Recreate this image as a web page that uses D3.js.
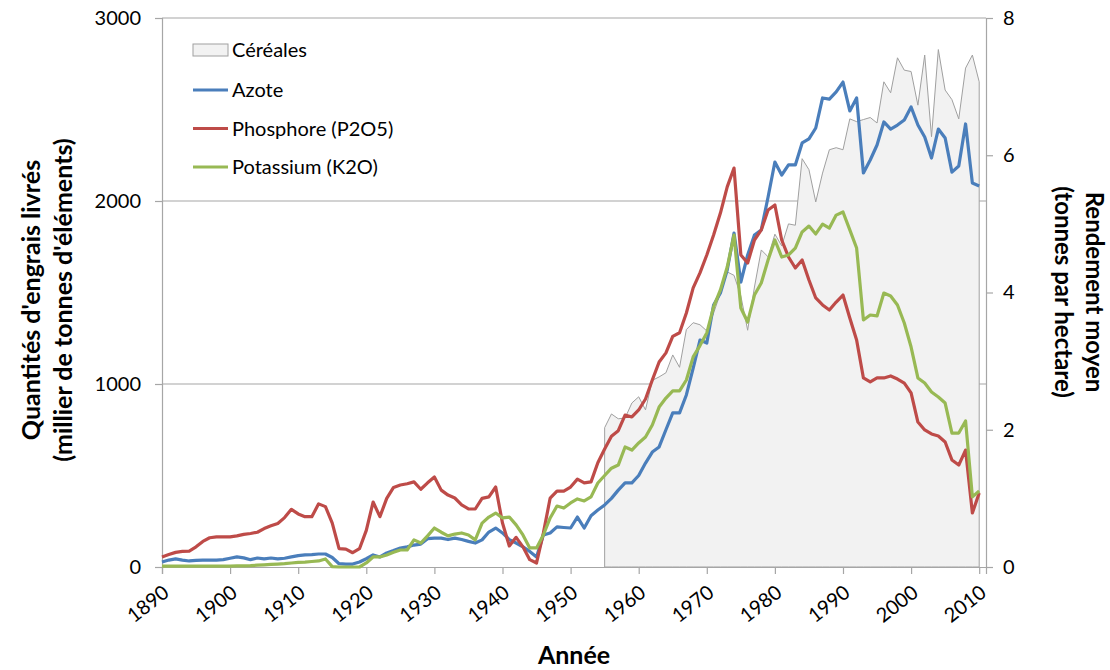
<!DOCTYPE html>
<html>
<head>
<meta charset="utf-8">
<script src="https://cdn.jsdelivr.net/npm/d3@7"></script>
<style>
  body { margin: 0; background: #fff; }
  #chart { width: 1110px; height: 670px; }
  text { font-family: Lato, "Open Sans", sans-serif; fill: #000; }
</style>
</head>
<body>
<div id="chart"></div>
<script>
// Années (catégories)
const years = d3.range(1890, 2011);
const cerealYears = d3.range(1955, 2011);

// Azote (milliers de tonnes)
const azote = [27, 38, 44, 38, 33, 36, 38, 38, 38, 40,
  48, 55, 50, 40, 49, 44, 49, 44, 48, 55,
  62, 66, 68, 71, 71, 52, 18, 16, 16, 27,
  45, 66, 55, 77, 90, 104, 110, 120, 125, 155,
  158, 158, 150, 158, 150, 140, 131, 148, 191, 213,
  186, 150, 131, 110, 85, 55, 175, 186, 219, 216,
  213, 273, 213, 280, 311, 339, 375, 420, 460, 460,
  500, 568, 628, 656, 750, 842, 842, 940, 1087, 1240,
  1224, 1432, 1497, 1623, 1825, 1557, 1705, 1814, 1842, 2022,
  2213, 2142, 2197, 2197, 2317, 2339, 2399, 2563, 2557, 2596,
  2650, 2492, 2563, 2153, 2224, 2306, 2432, 2393, 2415, 2443,
  2514, 2415, 2350, 2235, 2393, 2344, 2158, 2191, 2421, 2098,
  2082];

// Phosphore P2O5
const phosphore = [55, 68, 80, 85, 87, 110, 140, 160, 165, 165,
  165, 170, 178, 183, 190, 210, 225, 238, 270, 315,
  290, 275, 275, 345, 330, 240, 100, 98, 78, 100,
  200, 355, 275, 375, 435, 448, 455, 465, 425, 460,
  492, 420, 393, 377, 340, 318, 317, 375, 383, 437,
  240, 115, 162, 110, 40, 22, 185, 377, 415, 415,
  437, 480, 460, 465, 570, 645, 715, 745, 830, 820,
  858, 918, 1022, 1120, 1170, 1260, 1280, 1388, 1525, 1607,
  1705, 1814, 1934, 2077, 2180, 1705, 1661, 1787, 1842, 1951,
  1978, 1787, 1694, 1634, 1678, 1568, 1470, 1432, 1404, 1448,
  1486, 1361, 1240, 1033, 1011, 1033, 1033, 1044, 1027, 1005,
  951, 792, 749, 727, 716, 683, 585, 557, 639, 295,
  404];

// Potassium K2O
const potassium = [5, 5, 5, 5, 5, 5, 5, 5, 5, 5,
  5, 6, 6, 7, 10, 12, 14, 16, 18, 22,
  25, 27, 30, 33, 44, 2, 0, 0, 0, 0,
  22, 55, 55, 66, 80, 93, 93, 148, 131, 170,
  213, 190, 170, 180, 186, 175, 148, 240, 273, 295,
  268, 273, 230, 175, 104, 104, 175, 268, 333, 322,
  350, 372, 361, 383, 459, 500, 540, 557, 656, 639,
  678, 710, 776, 874, 923, 962, 962, 1022, 1148, 1210,
  1279, 1421, 1514, 1639, 1814, 1415, 1339, 1486, 1552, 1678,
  1787, 1694, 1705, 1743, 1831, 1863, 1820, 1874, 1852, 1923,
  1940, 1842, 1743, 1350, 1377, 1372, 1497, 1481, 1432, 1333,
  1202, 1033, 1005, 956, 929, 896, 732, 732, 798, 383,
  415];

// Céréales, rendement moyen (t/ha)
const cereales = [2.03, 2.23, 2.16, 2.17, 2.39, 2.48, 2.29, 2.72, 2.77, 2.83,
  3.09, 2.91, 3.46, 3.56, 3.53, 3.44, 3.70, 3.99, 4.30, 4.25,
  3.95, 3.45, 4.08, 4.62, 4.52, 4.85, 4.68, 5.00, 4.98, 5.95,
  5.79, 5.32, 5.74, 6.08, 6.11, 6.08, 6.53, 6.49, 6.52, 6.55,
  6.47, 7.07, 6.91, 7.42, 7.24, 7.22, 6.73, 7.46, 6.27, 7.54,
  6.95, 6.81, 6.53, 7.27, 7.46, 7.07];

const leftTicks = [0, 1000, 2000, 3000];
const rightTicks = [0, 2, 4, 6, 8];
const xTicks = d3.range(1890, 2011, 10);

const series = [
  { name: "Azote", values: azote, color: "#4a7ebb" },
  { name: "Phosphore (P2O5)", values: phosphore, color: "#be4b48" },
  { name: "Potassium (K2O)", values: potassium, color: "#98b954" }
];

const width = 1110, height = 670;
const margin = { top: 18, right: 124, bottom: 103, left: 162 };

const svg = d3.select("#chart").append("svg")
  .attr("width", width)
  .attr("height", height);

const x = d3.scaleLinear().domain([1890, 2011]).range([margin.left, width - margin.right]);
const y = d3.scaleLinear().domain([0, 3000]).range([height - margin.bottom, margin.top]);
const y2 = d3.scaleLinear().domain([0, 8]).range([height - margin.bottom, margin.top]);

const axisColor = "#a6a6a6";

// Gridlines
svg.append("g")
  .selectAll("line")
  .data(leftTicks.slice(1))
  .enter().append("line")
  .attr("x1", x(1890)).attr("x2", x(2011))
  .attr("y1", d => y(d)).attr("y2", d => y(d))
  .attr("stroke", axisColor).attr("stroke-width", 1.2);

// Céréales area
const cerealData = cerealYears.map((yr, i) => ({ year: yr, v: cereales[i] }));
const area = d3.area()
  .x(d => x(d.year))
  .y0(y2(0))
  .y1(d => y2(d.v));
svg.append("path")
  .datum(cerealData)
  .attr("d", area)
  .attr("fill", "#f2f2f2")
  .attr("stroke", "#a0a0a0")
  .attr("stroke-width", 1);

// Axes
const xAxis = d3.axisBottom(x).tickValues(xTicks).tickSize(7).tickFormat(d3.format("d"));
const gx = svg.append("g")
  .attr("transform", `translate(0,${y(0)})`)
  .call(xAxis);
gx.select(".domain").attr("stroke", axisColor).attr("stroke-width", 1.2);
gx.selectAll(".tick line").attr("stroke", axisColor).attr("stroke-width", 1.2);
gx.selectAll(".tick text")
  .attr("font-size", 20)
  .attr("text-anchor", "end")
  .attr("dy", 0)
  .attr("y", 0)
  .attr("transform", "translate(8,28) rotate(-38)");

const yAxis = d3.axisLeft(y).tickValues(leftTicks).tickSize(7).tickPadding(14)
  .tickFormat(d3.format("d"));
const gy = svg.append("g")
  .attr("transform", `translate(${x(1890)},0)`)
  .call(yAxis);
gy.select(".domain").attr("stroke", axisColor).attr("stroke-width", 1.2);
gy.selectAll(".tick line").attr("stroke", axisColor).attr("stroke-width", 1.2);
gy.selectAll(".tick text").attr("font-size", 20);

const y2Axis = d3.axisRight(y2).tickValues(rightTicks).tickSize(7).tickPadding(10);
const gy2 = svg.append("g")
  .attr("transform", `translate(${x(2011)},0)`)
  .call(y2Axis);
gy2.select(".domain").attr("stroke", axisColor).attr("stroke-width", 1.2);
gy2.selectAll(".tick line").attr("stroke", axisColor).attr("stroke-width", 1.2);
gy2.selectAll(".tick text").attr("font-size", 20);
svg.selectAll(".domain").attr("fill", "none");

// Lines
const line = d3.line()
  .x((d, i) => x(years[i]))
  .y(d => y(d));
svg.append("g")
  .selectAll("path")
  .data(series)
  .enter().append("path")
  .attr("d", d => line(d.values))
  .attr("fill", "none")
  .attr("stroke", d => d.color)
  .attr("stroke-width", 3.2)
  .attr("stroke-linejoin", "round");

// Legend
const legend = svg.append("g").attr("transform", "translate(193,50)");
legend.append("rect")
  .attr("x", 0).attr("y", -6).attr("width", 35).attr("height", 12)
  .attr("fill", "#f2f2f2").attr("stroke", "#a0a0a0");
legend.append("text")
  .attr("x", 39).attr("y", 0).attr("dy", "0.35em")
  .attr("font-size", 20).text("Céréales");
series.forEach((s, i) => {
  const g = legend.append("g").attr("transform", `translate(0,${40 + i * 38.5})`);
  g.append("line").attr("x1", 0).attr("x2", 35)
    .attr("stroke", s.color).attr("stroke-width", 3);
  g.append("text").attr("x", 39).attr("dy", "0.35em")
    .attr("font-size", 20).text(s.name);
});

// Titles
svg.append("text")
  .attr("x", (x(1890) + x(2011)) / 2).attr("y", 664)
  .attr("text-anchor", "middle")
  .attr("font-size", 25).attr("font-weight", "bold")
  .text("Année");

const leftTitle = svg.append("text")
  .attr("transform", "translate(40,300) rotate(-90)")
  .attr("text-anchor", "middle")
  .attr("font-size", 25).attr("font-weight", "bold");
leftTitle.append("tspan").attr("x", 0).attr("y", 0).text("Quantités d'engrais livrés");
leftTitle.append("tspan").attr("x", 0).attr("y", 32).text("(millier de tonnes d'éléments)");

const rightTitle = svg.append("text")
  .attr("transform", "translate(1086,292) rotate(90)")
  .attr("text-anchor", "middle")
  .attr("font-size", 24).attr("font-weight", "bold");
rightTitle.append("tspan").attr("x", 0).attr("y", 0).text("Rendement moyen");
rightTitle.append("tspan").attr("x", 0).attr("y", 31).text("(tonnes par hectare)");
</script>
</body>
</html>
